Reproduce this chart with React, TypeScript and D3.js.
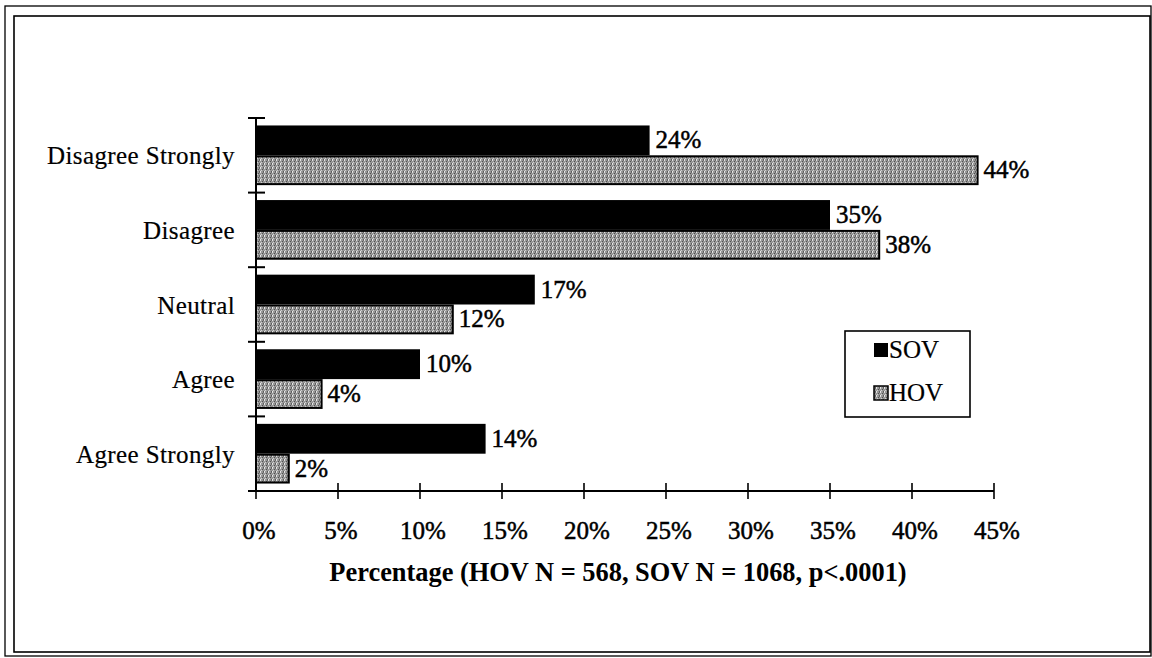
import React from "react";
import * as d3 from "d3";

const categories = ["Disagree Strongly", "Disagree", "Neutral", "Agree", "Agree Strongly"];
const seriesNames = ["SOV", "HOV"];
const sovValues = [24, 35, 17, 10, 14];
const hovValues = [44, 38, 12, 4, 2];
const xTicks = [0, 5, 10, 15, 20, 25, 30, 35, 40, 45];
const axisTitle = "Percentage (HOV N = 568, SOV N = 1068, p<.0001)";

const W = 1152;
const H = 658;
const FONT = "'Liberation Serif', 'Times New Roman', 'DejaVu Serif', serif";

export default function App() {
  const x = d3.scaleLinear().domain([0, 45]).range([256, 994]);
  const y = d3.scaleBand<string>().domain(categories).range([118, 491]).paddingInner(0.2).paddingOuter(0.1);
  const sub = d3.scaleBand<string>().domain(seriesNames).range([0, y.bandwidth()]);
  const step = y.step();
  const y0 = 118;
  const boundaries = d3.range(categories.length + 1).map((i) => y0 + i * step);
  const axisY = 491;

  const data = categories.map((c, i) => ({ c, sov: sovValues[i], hov: hovValues[i] }));

  return (
    <svg width={W} height={H} style={{ position: "absolute", left: 0, top: 0, background: "#fff", fontFamily: FONT }}>
      <defs>
        <pattern id="stip" width="4" height="4" patternUnits="userSpaceOnUse">
          <rect width="4" height="4" fill="#979797" />
          <rect x="0" y="0" width="1" height="1" fill="#e0e0e0" />
          <rect x="2" y="1" width="1" height="1" fill="#505050" />
          <rect x="1" y="2" width="1" height="1" fill="#d0d0d0" />
          <rect x="3" y="3" width="1" height="1" fill="#5a5a5a" />
          <rect x="3" y="0" width="1" height="1" fill="#6a6a6a" />
          <rect x="0" y="3" width="1" height="1" fill="#e8e8e8" />
        </pattern>
      </defs>
      {/* frames */}
      <rect x={5} y={6} width={1146} height={650} fill="none" stroke="#000" strokeWidth={1.3} />
      <rect x={14} y={16} width={1136} height={636} fill="none" stroke="#000" strokeWidth={1.6} />

      {/* bars */}
      {data.map((d) => (
        <g key={d.c}>
          <rect x={x(0)} y={(y(d.c) as number) + (sub("SOV") as number)} width={x(d.sov) - x(0)} height={sub.bandwidth()} fill="#000" />
          <rect x={x(0)} y={(y(d.c) as number) + (sub("HOV") as number) + 1} width={x(d.hov) - x(0)} height={sub.bandwidth() - 2} fill="url(#stip)" stroke="#000" strokeWidth={2} />
          <text x={x(d.sov) + 6} y={(y(d.c) as number) + (sub("SOV") as number) + sub.bandwidth() / 2 + 8} fontSize={25} stroke="#000" strokeWidth={0.5}>{d.sov}%</text>
          <text x={x(d.hov) + 6} y={(y(d.c) as number) + (sub("HOV") as number) + sub.bandwidth() / 2 + 8} fontSize={25} stroke="#000" strokeWidth={0.5}>{d.hov}%</text>
          <text x={235} y={(y(d.c) as number) + y.bandwidth() / 2 + 9} fontSize={25} textAnchor="end" letterSpacing={0.4} stroke="#000" strokeWidth={0.2}>{d.c}</text>
        </g>
      ))}

      {/* y axis */}
      <line x1={x(0)} x2={x(0)} y1={y0} y2={axisY} stroke="#000" strokeWidth={2} />
      {boundaries.map((b, i) => (
        <line key={i} x1={248} x2={265} y1={b} y2={b} stroke="#000" strokeWidth={2} />
      ))}

      {/* x axis */}
      <line x1={x(0)} x2={x(45)} y1={axisY} y2={axisY} stroke="#000" strokeWidth={2} />
      {xTicks.map((t) => (
        <g key={t}>
          <line x1={x(t)} x2={x(t)} y1={axisY - 8} y2={axisY + 8} stroke="#000" strokeWidth={1.6} />
          <text x={x(t) + 3} y={539} fontSize={25} textAnchor="middle" stroke="#000" strokeWidth={0.5}>{t}%</text>
        </g>
      ))}
      <text x={618} y={581} fontSize={26.4} fontWeight="bold" textAnchor="middle">{axisTitle}</text>

      {/* legend */}
      <rect x={845} y={331} width={125} height={86} fill="#fff" stroke="#000" strokeWidth={1.6} />
      <rect x={874} y={343} width={14} height={14} fill="#000" />
      <text x={889} y={358} fontSize={25} stroke="#000" strokeWidth={0.2}>{seriesNames[0]}</text>
      <rect x={874} y={386} width={14} height={14} fill="url(#stip)" stroke="#000" strokeWidth={1.5} />
      <text x={889} y={401} fontSize={25} stroke="#000" strokeWidth={0.2}>{seriesNames[1]}</text>
    </svg>
  );
}
